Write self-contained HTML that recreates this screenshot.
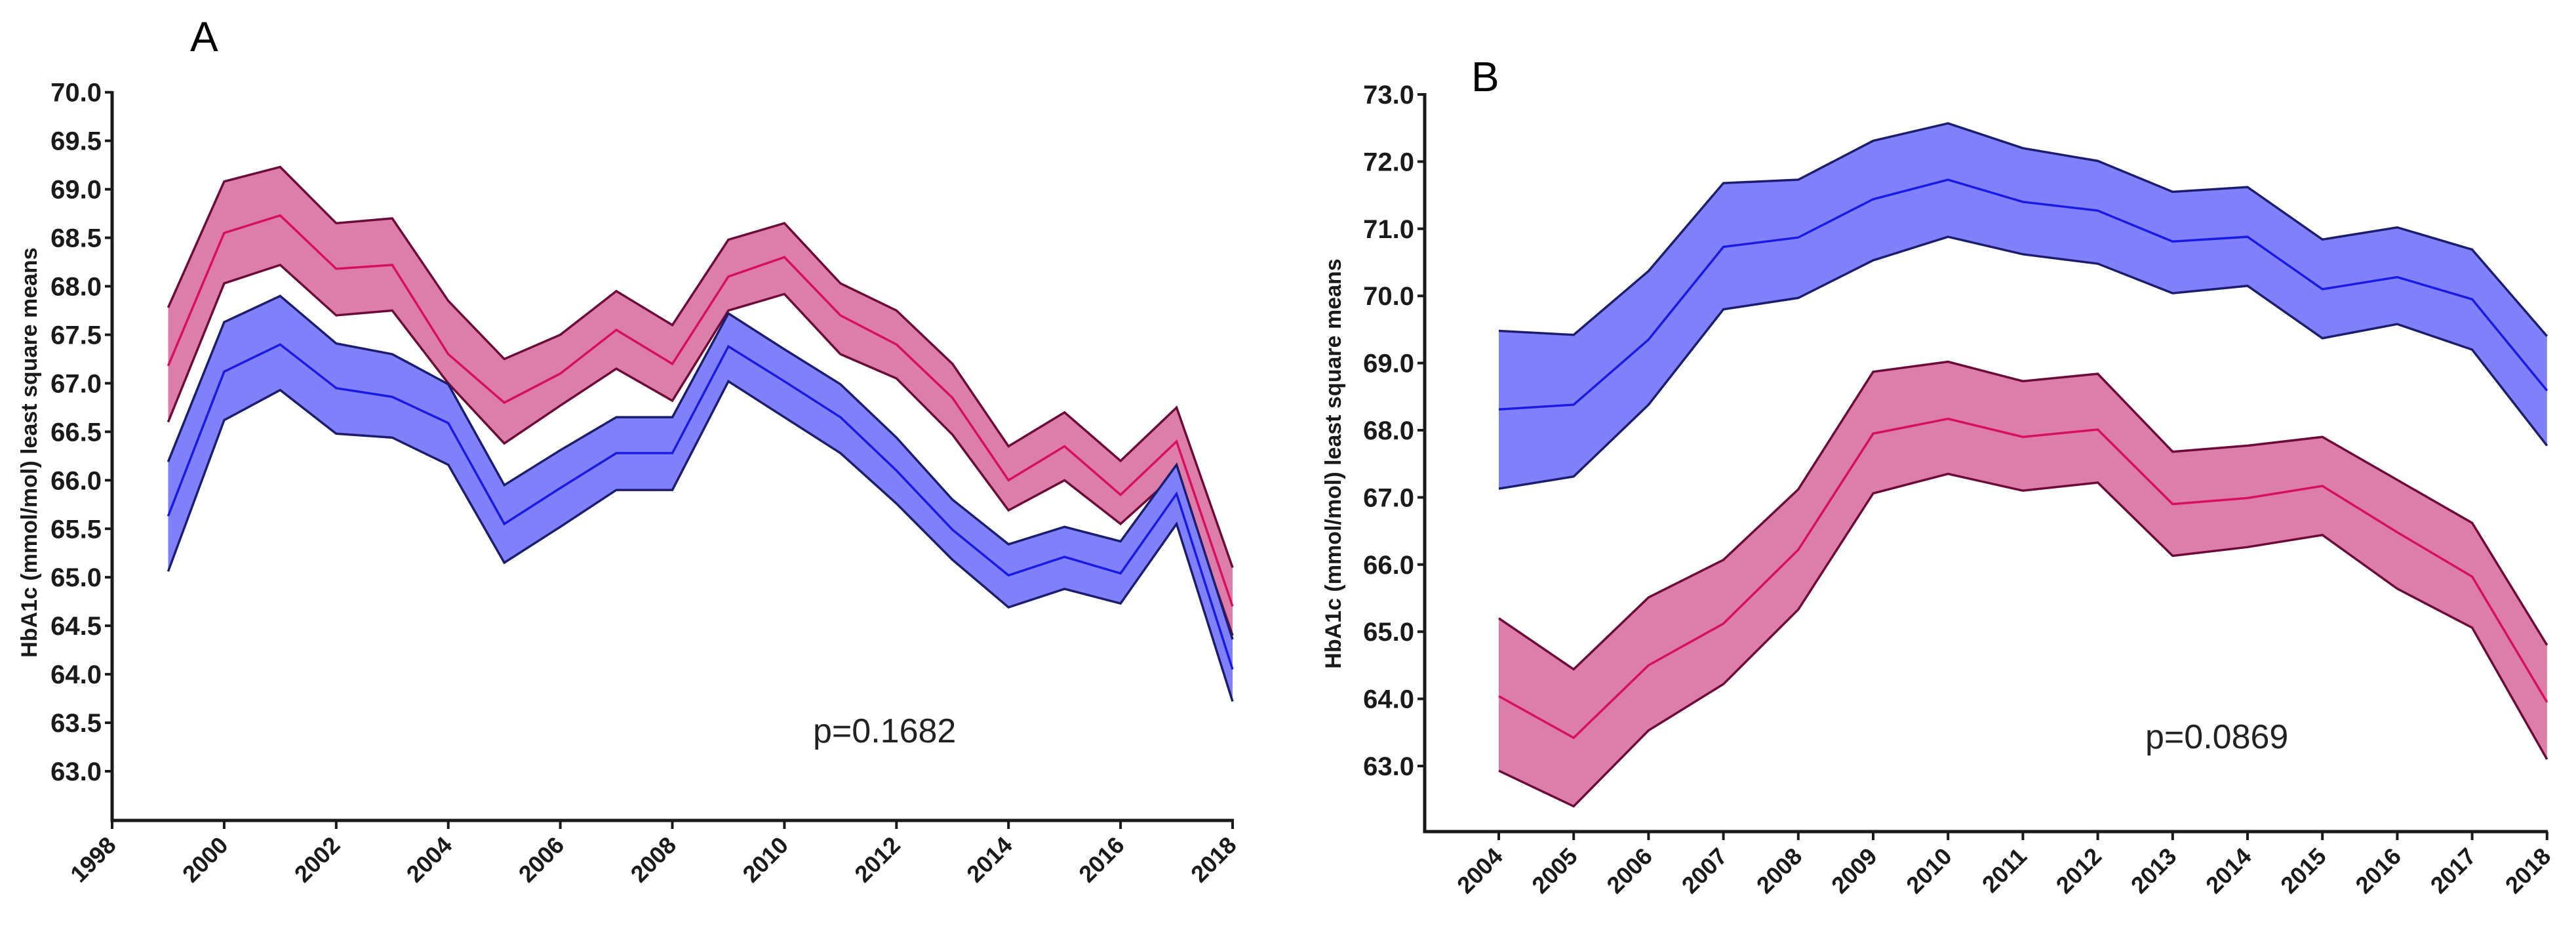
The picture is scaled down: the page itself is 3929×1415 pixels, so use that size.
<!DOCTYPE html>
<html><head><meta charset="utf-8">
<style>
html,body{margin:0;padding:0;background:#fff;}
svg{display:block;font-family:"Liberation Sans",sans-serif;}
</style></head>
<body>
<svg id="chart" width="3929" height="1415" viewBox="0 0 3929 1415" xmlns="http://www.w3.org/2000/svg">
<rect width="3929" height="1415" fill="#fff"/>
<g id="panelA"></g>
<g id="panelB"></g>
</svg>
<script>
// Panel A data
const yearsA = [1999,2000,2001,2002,2003,2004,2005,2006,2007,2008,2009,2010,2011,2012,2013,2014,2015,2016,2017,2018];
const pinkMeanA = [67.18,68.55,68.73,68.18,68.22,67.3,66.8,67.1,67.55,67.2,68.1,68.3,67.7,67.4,66.85,66.0,66.35,65.85,66.4,64.7];
const pinkUpA = [67.78,69.08,69.23,68.65,68.7,67.85,67.25,67.5,67.95,67.6,68.48,68.65,68.03,67.75,67.2,66.35,66.7,66.2,66.75,65.1];
const pinkLoA = [66.6,68.03,68.22,67.7,67.75,67.0,66.38,66.77,67.15,66.82,67.75,67.92,67.3,67.05,66.47,65.69,66.0,65.55,66.07,64.4];
const blueMeanA = [65.63,67.12,67.4,66.95,66.86,66.59,65.55,65.92,66.28,66.28,67.38,67.02,66.65,66.1,65.49,65.02,65.21,65.04,65.86,64.05];
const blueUpA = [66.19,67.63,67.9,67.41,67.3,66.99,65.95,66.31,66.65,66.65,67.72,67.35,66.99,66.44,65.8,65.34,65.52,65.37,66.16,64.36];
const blueLoA = [65.06,66.62,66.93,66.48,66.44,66.16,65.15,65.52,65.9,65.9,67.02,66.65,66.28,65.76,65.18,64.69,64.88,64.73,65.55,63.72];
const yTicksA = [63.0,63.5,64.0,64.5,65.0,65.5,66.0,66.5,67.0,67.5,68.0,68.5,69.0,69.5,70.0];
const xTicksA = [1998,2000,2002,2004,2006,2008,2010,2012,2014,2016,2018];
// Panel B data
const yearsB = [2004,2005,2006,2007,2008,2009,2010,2011,2012,2013,2014,2015,2016,2017,2018];
const blueMeanB = [68.31,68.38,69.35,70.73,70.87,71.44,71.73,71.4,71.27,70.81,70.88,70.1,70.28,69.95,68.59];
const blueUpB = [69.48,69.42,70.37,71.68,71.73,72.31,72.57,72.2,72.01,71.55,71.62,70.84,71.02,70.69,69.4];
const blueLoB = [67.13,67.31,68.38,69.8,69.97,70.53,70.88,70.62,70.48,70.04,70.15,69.37,69.58,69.2,67.77];
const pinkMeanB = [64.04,63.42,64.5,65.12,66.22,67.95,68.17,67.9,68.01,66.9,66.99,67.17,66.48,65.82,63.95];
const pinkUpB = [65.2,64.44,65.51,66.07,67.12,68.87,69.02,68.73,68.84,67.68,67.77,67.9,67.26,66.62,64.8];
const pinkLoB = [62.93,62.4,63.53,64.22,65.33,67.06,67.35,67.1,67.22,66.13,66.26,66.44,65.64,65.06,63.1];
const yTicksB = [63,64,65,66,67,68,69,70,71,72,73];
const xTicksB = [2004,2005,2006,2007,2008,2009,2010,2011,2012,2013,2014,2015,2016,2017,2018];

const NS = "http://www.w3.org/2000/svg";
function mk(parent, tag, attrs){
  const e = document.createElementNS(NS, tag);
  for (const k in attrs) e.setAttribute(k, attrs[k]);
  parent.appendChild(e);
  return e;
}
function drawPanel(g, cfg){
  const X = v => cfg.x0 + (v - cfg.xMin) * cfg.xScale;
  const Y = v => cfg.y0 - (v - cfg.yMin) * cfg.yScale;
  // bands
  cfg.series.forEach(s => {
    const up = cfg.years.map((yr,i)=>X(yr)+","+Y(s.up[i]));
    const lo = cfg.years.map((yr,i)=>X(yr)+","+Y(s.lo[i])).reverse();
    const band = mk(g, "polygon", {points: up.concat(lo).join(" "), fill: s.fill, stroke: "none"});
    
    
    const upL = mk(g, "polyline", {points: up.join(" "), fill:"none", stroke:s.edge, "stroke-width":3.5});
    
    
    const loL = mk(g, "polyline", {points: cfg.years.map((yr,i)=>X(yr)+","+Y(s.lo[i])).join(" "), fill:"none", stroke:s.edge, "stroke-width":3.5});
    
    
    const m = mk(g, "polyline", {points: cfg.years.map((yr,i)=>X(yr)+","+Y(s.mean[i])).join(" "), fill:"none", stroke:s.line, "stroke-width":3.5});
    
    
  });
  // axes
  const ax = mk(g, "path", {d:`M${cfg.axX},${cfg.axTop} L${cfg.axX},${cfg.axBot} L${cfg.axRight},${cfg.axBot}`, fill:"none", stroke:"#1a1a1a", "stroke-width":5});
  
  
  cfg.yTicks.forEach(t => {
    const y = Y(t);
    mk(g, "line", {x1:cfg.axX-11, x2:cfg.axX, y1:y, y2:y, stroke:"#1a1a1a", "stroke-width":4});
    const tx = mk(g, "text", {x:cfg.axX-16, y:y+14, "text-anchor":"end", "font-size":40, "font-weight":"bold", fill:"#1a1a1a"});
    tx.textContent = t.toFixed(1);
    
    
  });
  cfg.xTicks.forEach(t => {
    const x = X(t);
    mk(g, "line", {x1:x, x2:x, y1:cfg.axBot, y2:cfg.axBot+13, stroke:"#1a1a1a", "stroke-width":4});
    const tx = mk(g, "text", {x:x+8, y:cfg.axBot+40, "text-anchor":"end", "font-size":36, "font-weight":"bold", fill:"#1a1a1a", transform:`rotate(-45 ${x+8} ${cfg.axBot+40})`});
    tx.textContent = String(t);
    
    
  });
  const yl = mk(g, "text", {x:cfg.ylX, y:cfg.ylY, "text-anchor":"middle", "font-size":34, "font-weight":"bold", fill:"#1a1a1a", transform:`rotate(-90 ${cfg.ylX} ${cfg.ylY})`});
  yl.textContent = "HbA1c (mmol/mol) least square means";
  
  
  const lt = mk(g, "text", {x:cfg.letX, y:cfg.letY, "font-size":64, fill:"#000"});
  lt.textContent = cfg.letter;
  
  
  const p = mk(g, "text", {x:cfg.pX, y:cfg.pY, "font-size":52, fill:"#222"});
  p.textContent = cfg.pText;
  
  
}
const pinkStyle = {fill:"#dc7ea9", edge:"#6e0a38", line:"#d6105e"};
const blueStyle = {fill:"#8080fb", edge:"#1c1c70", line:"#1a1ae6"};
drawPanel(document.getElementById("panelA"), {
  years: yearsA, xMin:1998, x0:171, xScale:85.45, yMin:63, y0:1176, yScale:147.9,
  series:[
    Object.assign({name:"pink", mean:pinkMeanA, up:pinkUpA, lo:pinkLoA}, pinkStyle),
    Object.assign({name:"blue", mean:blueMeanA, up:blueUpA, lo:blueLoA}, blueStyle)
  ],
  axX:171, axTop:139, axBot:1251, axRight:1882,
  yTicks:yTicksA, xTicks:xTicksA,
  ylX:56, ylY:690, letter:"A", letX:290, letY:78, pText:"p=0.1682", pX:1240, pY:1132
});
drawPanel(document.getElementById("panelB"), {
  years: yearsB, xMin:2004, x0:2286, xScale:114.2, yMin:63, y0:1168, yScale:102.4,
  series:[
    Object.assign({name:"blue", mean:blueMeanB, up:blueUpB, lo:blueLoB}, blueStyle),
    Object.assign({name:"pink", mean:pinkMeanB, up:pinkUpB, lo:pinkLoB}, pinkStyle)
  ],
  axX:2173, axTop:142, axBot:1268, axRight:3886,
  yTicks:yTicksB, xTicks:xTicksB,
  ylX:2045, ylY:707, letter:"B", letX:2244, letY:139, pText:"p=0.0869", pX:3272, pY:1141
});
</script>
</body></html>
